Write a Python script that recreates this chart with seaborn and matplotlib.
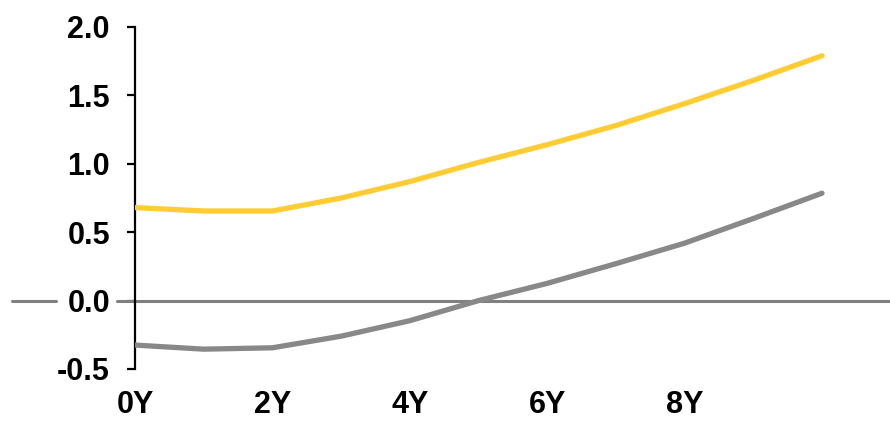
import numpy as np
import pandas as pd
import matplotlib.pyplot as plt
import seaborn as sns

# Values (years 0..10)
years = list(range(11))
yellow = [0.68, 0.655, 0.655, 0.75, 0.87, 1.01, 1.14, 1.28, 1.44, 1.61, 1.79]
grey = [-0.325, -0.355, -0.345, -0.26, -0.147, 0.0, 0.126, 0.27, 0.42, 0.60, 0.785]
xticks = [0, 2, 4, 6, 8]
xlabels = ["0Y", "2Y", "4Y", "6Y", "8Y"]
yticks = [-0.5, 0.0, 0.5, 1.0, 1.5, 2.0]

df = pd.DataFrame({"year": years * 2,
                   "value": yellow + grey,
                   "series": ["yellow"] * 11 + ["grey"] * 11})

sns.set_style("white")
plt.rcParams['font.family'] = ['Liberation Sans', 'DejaVu Sans']

fig = plt.figure(figsize=(8.9, 4.22), dpi=100)
ax = fig.add_axes([135 / 890, 53 / 422, 755 / 890, 342 / 422])

# zero line runs across the whole width, with a gap for the "0.0" label
ax.axhline(0, xmin=-0.163, xmax=-0.104, color="#808080", lw=2.2, clip_on=False, zorder=1)
ax.axhline(0, xmin=-0.024, xmax=1.0, color="#808080", lw=2.2, clip_on=False, zorder=1)

sns.lineplot(data=df, x="year", y="value", hue="series",
             palette={"yellow": "#FFCC33", "grey": "#888888"},
             lw=3.8, legend=False, ax=ax, zorder=3)
for l in ax.lines[2:]:
    l.set_solid_capstyle("round")

ax.set_xlim(0, 755 / 68.7)
ax.set_ylim(-0.5, 2.0)
ax.set_xticks(xticks)
ax.set_xticklabels(xlabels)
ax.set_yticks(yticks)
ax.set_yticklabels([f"{v:.1f}" for v in yticks])
ax.set_xlabel("")
ax.set_ylabel("")

for s in ["top", "right", "bottom"]:
    ax.spines[s].set_visible(False)
ax.spines["left"].set_color("black")
ax.spines["left"].set_linewidth(1.6)

ax.tick_params(axis="y", left=True, length=6, width=1.6, color="black",
               pad=12, labelsize=22)
ax.tick_params(axis="x", bottom=False, length=0, pad=15, labelsize=22)
for t in ax.get_yticklabels() + ax.get_xticklabels():
    t.set_fontweight("bold")
    t.set_color("black")

fig.savefig("out.png", dpi=100)
